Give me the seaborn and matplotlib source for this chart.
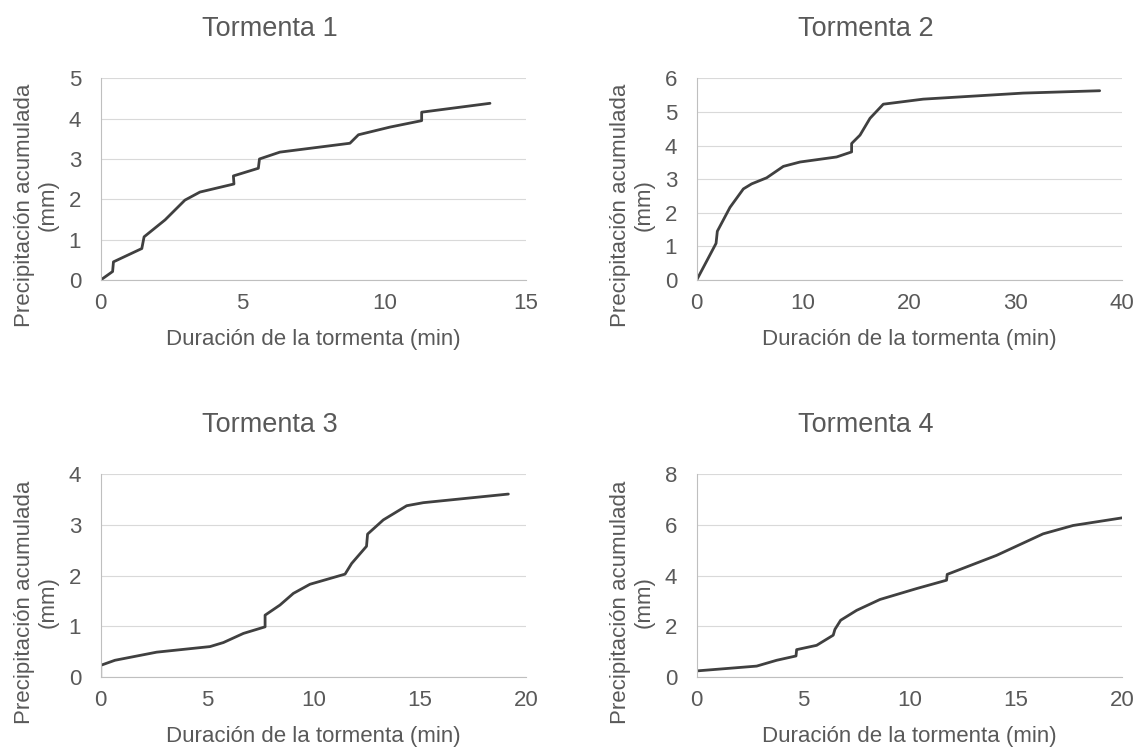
import matplotlib
matplotlib.use("Agg")
import matplotlib.pyplot as plt
import seaborn as sns

# Tormenta 1
t1_min = [0, 0.42, 0.45, 1.45, 1.53, 2.27, 2.97, 3.5, 4.70, 4.68, 5.56, 5.6, 6.32,
          8.79, 9.09, 10.2, 11.32, 11.32, 13.73]
t1_mm = [0, 0.21, 0.45, 0.78, 1.07, 1.49, 1.98, 2.18, 2.38, 2.58, 2.77, 3.0, 3.17,
         3.39, 3.6, 3.79, 3.95, 4.16, 4.38]

# Tormenta 2
t2_min = [0, 1.82, 1.94, 3.13, 4.39, 5.17, 6.58, 8.15, 9.72, 13.16, 14.57, 14.57,
          15.36, 16.3, 17.55, 21.3, 30.7, 37.9]
t2_mm = [0, 1.09, 1.45, 2.16, 2.71, 2.86, 3.04, 3.38, 3.51, 3.66, 3.81, 4.06,
         4.31, 4.81, 5.23, 5.38, 5.56, 5.63]

# Tormenta 3
t3_min = [0, 0, 0.67, 2.63, 5.14, 5.77, 6.71, 7.73, 7.73, 8.43, 9.06, 9.84, 11.49,
          11.8, 12.5, 12.55, 13.29, 14.39, 15.17, 19.17]
t3_mm = [0, 0.23, 0.33, 0.49, 0.60, 0.68, 0.86, 0.99, 1.22, 1.42, 1.65, 1.83, 2.03,
         2.24, 2.58, 2.82, 3.1, 3.38, 3.44, 3.61]

# Tormenta 4
t4_min = [0, 2.82, 3.76, 4.67, 4.70, 5.64, 6.42, 6.5, 6.77, 7.52, 8.62, 10.34,
          11.75, 11.78, 14.1, 16.29, 17.7, 20]
t4_mm = [0.24, 0.43, 0.66, 0.83, 1.08, 1.25, 1.65, 1.88, 2.24, 2.63, 3.06, 3.49,
         3.82, 4.05, 4.80, 5.65, 5.98, 6.28]

titles = ["Tormenta 1", "Tormenta 2", "Tormenta 3", "Tormenta 4"]
xticks = [[0, 5, 10, 15], [0, 10, 20, 30, 40], [0, 5, 10, 15, 20], [0, 5, 10, 15, 20]]
yticks = [[0, 1, 2, 3, 4, 5], [0, 1, 2, 3, 4, 5, 6], [0, 1, 2, 3, 4], [0, 2, 4, 6, 8]]
xlabel = "Duración de la tormenta (min)"
ylabel = "Precipitación acumulada\n(mm)"

sns.set_style("white")
plt.rcParams["font.family"] = ["Liberation Sans", "DejaVu Sans"]

W, H = 1135, 749
fig = plt.figure(figsize=(W / 100, H / 100), dpi=100)

txt = "#595959"
axcol = "#bfbfbf"

# pixel boxes: left, top, right, bottom
boxes = [(100.7, 78.3, 526, 280), (696.7, 78.3, 1122, 280),
         (100.7, 474.3, 526, 677), (696.7, 474.3, 1122, 677)]
title_x = [270, 866, 270, 866]
series = [(t1_min, t1_mm), (t2_min, t2_mm), (t3_min, t3_mm), (t4_min, t4_mm)]

for i, (l, t, r, b) in enumerate(boxes):
    ax = fig.add_axes([l / W, 1 - b / H, (r - l) / W, (b - t) / H])
    xs, ys = series[i]
    sns.lineplot(x=xs, y=ys, ax=ax, sort=False, estimator=None,
                 color="#404040", linewidth=2.0, solid_joinstyle="round",
                 solid_capstyle="round")
    ax.set_xlim(xticks[i][0], xticks[i][-1])
    ax.set_ylim(yticks[i][0], yticks[i][-1])
    ax.set_xticks(xticks[i])
    ax.set_yticks(yticks[i])
    ax.grid(axis="y", color="#d9d9d9", linewidth=0.8)
    ax.set_axisbelow(True)
    for s in ["top", "right"]:
        ax.spines[s].set_visible(False)
    for s in ["left", "bottom"]:
        ax.spines[s].set_color(axcol)
        ax.spines[s].set_linewidth(0.8)
    ax.tick_params(axis="both", labelsize=16, labelcolor=txt, color=axcol,
                   length=3.6, width=0.8, direction="out")
    ax.tick_params(axis="x", pad=5.5)
    ax.tick_params(axis="y", pad=10.5)
    ax.set_xlabel("")
    ax.set_ylabel("")

    # title centred over the chart area
    fig.text(title_x[i] / W, 1 - (t - 42) / H, titles[i], ha="center",
             va="baseline", fontsize=19.5, color=txt)
    # x label
    fig.text((l + r) / 2 / W, 1 - (b + 65) / H, xlabel, ha="center",
             va="baseline", fontsize=16, color=txt)
    # y label
    fig.text((l - 64.7) / W, 1 - (b - 75) / H, ylabel, ha="center",
             va="center", rotation=90, multialignment="center",
             fontsize=16, color=txt, linespacing=1.15)

fig.savefig("out.png", dpi=100)
